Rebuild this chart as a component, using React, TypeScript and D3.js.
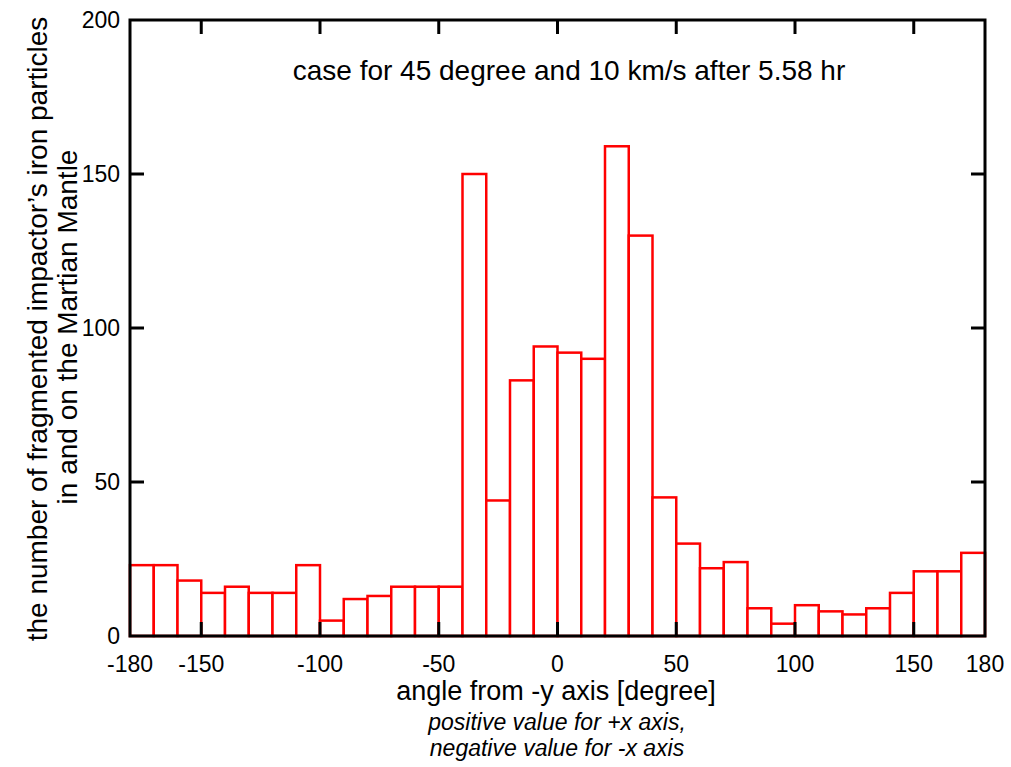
import React from "react";
import * as d3 from "d3";

const binStarts = [
  -180, -170, -160, -150, -140, -130, -120, -110, -100, -90, -80, -70, -60, -50, -40, -30, -20, -10,
  0, 10, 20, 30, 40, 50, 60, 70, 80, 90, 100, 110, 120, 130, 140, 150, 160, 170,
];
const counts = [
  23, 23, 18, 14, 16, 14, 14, 23, 5, 12, 13, 16, 16, 16, 150, 44, 83, 94,
  92, 90, 159, 130, 45, 30, 22, 24, 9, 4, 10, 8, 7, 9, 14, 21, 21, 27,
];
const binWidth = 10;
const xTickLabels = [-180, -150, -100, -50, 0, 50, 100, 150, 180];
const xTickMarks = [-150, -100, -50, 0, 50, 100, 150];
const yTickLabels = [0, 50, 100, 150, 200];
const yTickMarks = [50, 100, 150];

const W = 1011;
const H = 767;
const L = 130;
const R = 985;
const T = 20;
const B = 636;
const font = "'Liberation Sans', Arial, Helvetica, sans-serif";

export default function App() {
  const x = d3.scaleLinear().domain([-180, 180]).range([L, R]);
  const y = d3.scaleLinear().domain([0, 200]).range([B, T]);
  const tickLen = 14;
  return (
    <svg
      width={W}
      height={H}
      style={{ position: "absolute", left: 0, top: 0, background: "#fff" }}
      fontFamily={font}
    >
      <rect x={0} y={0} width={W} height={H} fill="#fff" />
      {binStarts.map((s, i) => (
        <rect
          key={i}
          x={x(s)}
          y={y(counts[i])}
          width={x(s + binWidth) - x(s)}
          height={y(0) - y(counts[i])}
          fill="#fff"
          stroke="#ff0000"
          strokeWidth={2.5}
        />
      ))}
      {xTickMarks.map((v) => (
        <g key={"xt" + v}>
          <line x1={x(v)} x2={x(v)} y1={B} y2={B - tickLen} stroke="#000" strokeWidth={3} />
          <line x1={x(v)} x2={x(v)} y1={T} y2={T + tickLen} stroke="#000" strokeWidth={3} />
        </g>
      ))}
      {yTickMarks.map((v) => (
        <g key={"yt" + v}>
          <line x1={L} x2={L + tickLen} y1={y(v)} y2={y(v)} stroke="#000" strokeWidth={3} />
          <line x1={R} x2={R - tickLen} y1={y(v)} y2={y(v)} stroke="#000" strokeWidth={3} />
        </g>
      ))}
      <rect x={L} y={T} width={R - L} height={B - T} fill="none" stroke="#000" strokeWidth={3} />
      {xTickLabels.map((v) => (
        <text key={"xl" + v} x={x(v)} y={672} fontSize={23} textAnchor="middle" fill="#000">
          {v}
        </text>
      ))}
      {yTickLabels.map((v) => (
        <text key={"yl" + v} x={120} y={y(v) + 8} fontSize={23} textAnchor="end" fill="#000">
          {v}
        </text>
      ))}
      <text x={569} y={80} fontSize={28} textAnchor="middle" fill="#000">
        case for 45 degree and 10 km/s after 5.58 hr
      </text>
      <text x={556} y={700} fontSize={27} textAnchor="middle" fill="#000">
        angle from -y axis [degree]
      </text>
      <text x={557} y={730} fontSize={23} fontStyle="italic" textAnchor="middle" fill="#000">
        positive value for +x axis,
      </text>
      <text x={557} y={756} fontSize={23} fontStyle="italic" textAnchor="middle" fill="#000">
        negative value for -x axis
      </text>
      <text transform="translate(47,329) rotate(-90)" fontSize={28} textAnchor="middle" fill="#000">
        the number of fragmented impactor’s iron particles
      </text>
      <text transform="translate(77,327) rotate(-90)" fontSize={28} textAnchor="middle" fill="#000">
        in and on the Martian Mantle
      </text>
    </svg>
  );
}
